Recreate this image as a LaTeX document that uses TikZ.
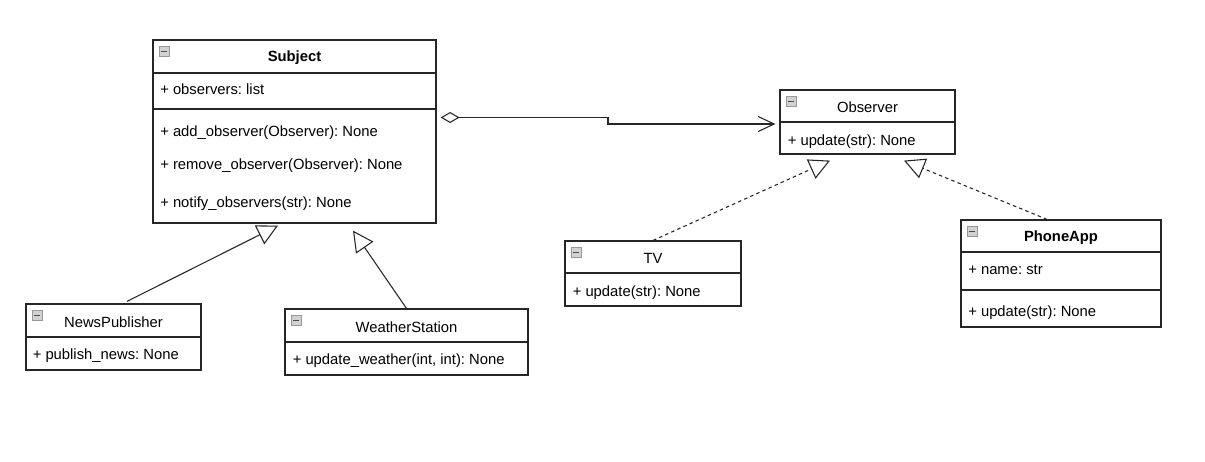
\documentclass[tikz,border=0pt]{standalone}
\usepackage{fontspec}
\setmainfont{Liberation Sans}
\frenchspacing
\usetikzlibrary{arrows.meta, calc, fit}

\begin{document}
\begin{tikzpicture}[x=0.75pt, y=-0.75pt,
  every node/.style={font=\fontsize{11.1}{13.3}\selectfont, text=black},
  classbox/.style={draw=black!85, line width=0.9pt, inner sep=0pt},
  divider/.style={draw=black!85, line width=0.9pt},
  classname/.style={inner sep=0pt, yshift=-1.1pt},
  member/.style={anchor=west, inner sep=0pt, text height=0.75em, text depth=0.2em, yshift=-1.1pt},
  collapse/.style={draw=gray!80, fill=gray!35, minimum size=7.5pt, inner sep=0pt, line width=0.5pt,
    path picture={\draw[black!70, line width=1.4pt] ([xshift=1.3pt]path picture bounding box.west) -- ([xshift=-1.3pt]path picture bounding box.east);}},
  inherits/.style={draw=black!85, line width=0.8pt, -{Triangle[open, length=15.5pt, width=15.75pt]}},
  realize/.style={inherits, dash pattern=on 2.6pt off 2.4pt},
  aggregate/.style={draw=black!85, line width=0.8pt, {Diamond[open, length=14.25pt, width=8.25pt]}-{Straight Barb[length=12pt, width=11.25pt]}}]
  \fill[white] (0, 0) rectangle (1205, 461);
  \useasboundingbox (0, 0) rectangle (1205, 461);

  % Subject
  \node[classbox, fit={(153, 40) (436, 223)}] (subject) {};
  \draw[divider] (153, 73) -- (436, 73);
  \draw[divider] (153, 109) -- (436, 109);
  \node[collapse] (subject-icon) at (164, 51.5) {};
  \node[classname] (subject-name) at (294.5, 56.5) {\bfseries Subject};
  \node[member] (subject-obs) at (160, 89.5) {+ observers: list};
  \node[member] (subject-add) at (160, 131.5) {+ add\_observer(Observer): None};
  \node[member] (subject-rem) at (160, 164.5) {+ remove\_observer(Observer): None};
  \node[member] (subject-notify) at (160, 202) {+ notify\_observers(str): None};

  % Observer
  \node[classbox, fit={(780, 90) (955, 154)}] (observer) {};
  \draw[divider] (780, 122) -- (955, 122);
  \node[collapse] (observer-icon) at (791, 101.5) {};
  \node[classname] (observer-name) at (867.5, 106) {Observer};
  \node[member] (observer-update) at (787.5, 140) {+ update(str): None};

  % TV
  \node[classbox, fit={(565, 241) (741, 306)}] (tv) {};
  \draw[divider] (565, 273) -- (741, 273);
  \node[collapse] (tv-icon) at (576, 252.5) {};
  \node[classname] (tv-name) at (653, 257) {TV};
  \node[member] (tv-update) at (572.5, 291) {+ update(str): None};

  % PhoneApp
  \node[classbox, fit={(961, 220) (1161, 327)}] (phoneapp) {};
  \draw[divider] (961, 252) -- (1161, 252);
  \draw[divider] (961, 290) -- (1161, 290);
  \node[collapse] (phoneapp-icon) at (972, 231.5) {};
  \node[classname] (phoneapp-name) at (1061, 236) {\bfseries PhoneApp};
  \node[member] (phoneapp-attr) at (968, 269.5) {+ name: str};
  \node[member] (phoneapp-update) at (968, 311.5) {+ update(str): None};

  % NewsPublisher
  \node[classbox, fit={(26, 304) (201, 370)}] (newspub) {};
  \draw[divider] (26, 337) -- (201, 337);
  \node[collapse] (newspub-icon) at (37, 315.5) {};
  \node[classname] (newspub-name) at (113.5, 320.5) {NewsPublisher};
  \node[member] (newspub-publish) at (32.5, 354.5) {+ publish\_news: None};

  % WeatherStation
  \node[classbox, fit={(285, 309) (528, 375)}] (weather) {};
  \draw[divider] (285, 342) -- (528, 342);
  \node[collapse] (weather-icon) at (296, 320.5) {};
  \node[classname] (weather-name) at (406.5, 325.5) {WeatherStation};
  \node[member] (weather-update) at (292.5, 359.5) {+ update\_weather(int, int): None};

  % relations
  \draw[aggregate] ($(subject.east)+(4, -14)$) -| (608, 124) -- ($(observer.west)+(-4, 2)$);
  \draw[inherits] ($(newspub.north)+(13.5, -2)$) -- ($(subject.south)+(-16.5, 2)$);
  \draw[inherits] (weather.north) -- ($(subject.south)+(58.5, 7)$);
  \draw[realize] (tv.north) -- ($(observer.south)+(-37.5, 6)$);
  \draw[realize] ($(phoneapp.north)+(-14, 0)$) -- ($(observer.south)+(36.5, 6)$);
\end{tikzpicture}
\end{document}
